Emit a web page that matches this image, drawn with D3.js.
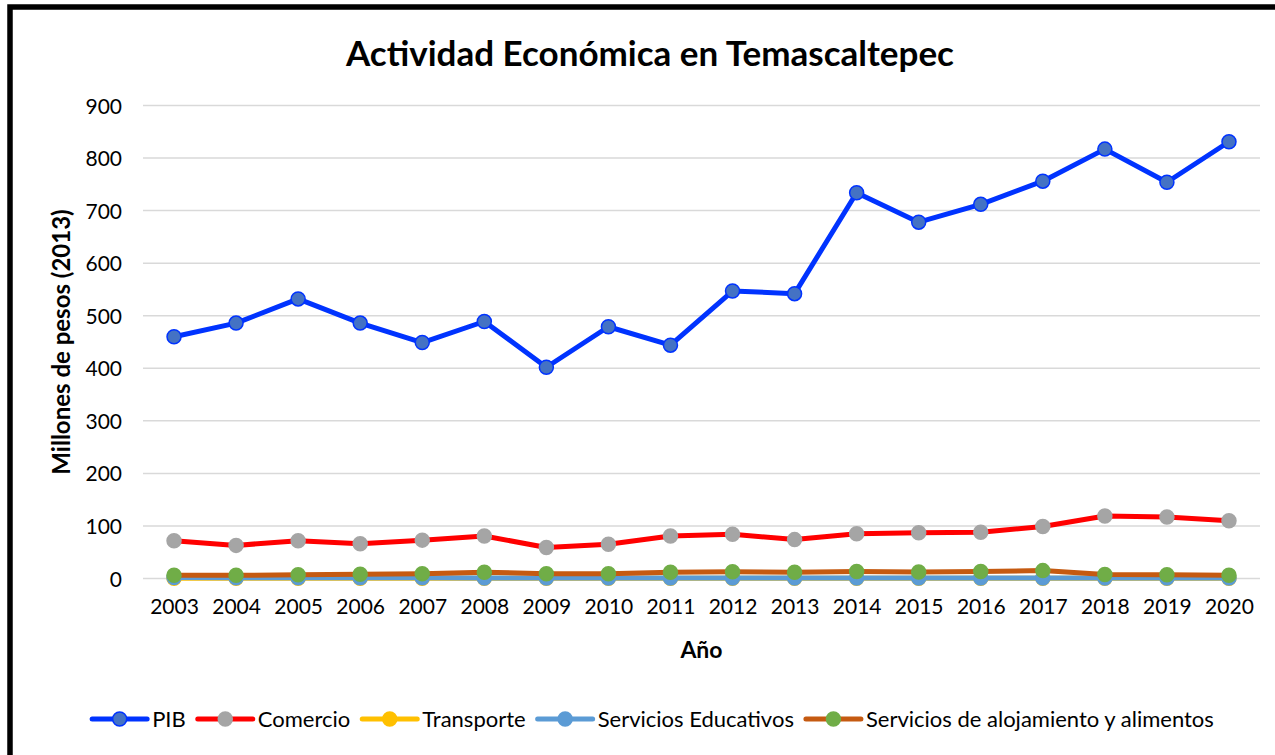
<!DOCTYPE html>
<html>
<head>
<meta charset="utf-8">
<script src="https://cdn.jsdelivr.net/npm/d3@7"></script>
<style>
  body { margin: 0; background: #fff; }
  text { font-family: Lato, "Open Sans", sans-serif; fill: #000; }
</style>
</head>
<body>
<svg width="1275" height="755"></svg>
<script>
// Data
const years = [2003, 2004, 2005, 2006, 2007, 2008, 2009, 2010, 2011, 2012, 2013, 2014, 2015, 2016, 2017, 2018, 2019, 2020];
const pib = [460, 486, 532, 486, 449, 489, 402, 479, 444, 547, 542, 734, 678, 712, 756, 817, 754, 831];
const comercio = [72, 63, 72, 66, 73, 81, 59, 65, 81, 84, 74, 85, 87, 88, 99, 119, 117, 110];
const transporte = [0.3, 0.3, 0.3, 0.3, 0.3, 0.5, 0.5, 0.5, 0.5, 0.5, 0.5, 0.5, 0.5, 0.5, 0.5, 0.5, 0.5, 0.5];
const educativos = [1.8, 1.5, 1.5, 1.5, 1.5, 1, 1, 1, 1, 1, 1, 1, 1, 1, 1, 1, 1, 1];
const alojamiento = [6, 6, 7, 8, 9, 12, 9, 9, 12, 13, 12, 13.5, 12.5, 13.5, 15, 7.5, 7, 6.3];
const yTicks = [0, 100, 200, 300, 400, 500, 600, 700, 800, 900];

const series = [
  {name: "PIB", values: pib, line: "#0033ff", fill: "#4472c4", stroke: "#0033ff"},
  {name: "Comercio", values: comercio, line: "#ff0000", fill: "#a5a5a5", stroke: "#a5a5a5"},
  {name: "Transporte", values: transporte, line: "#ffc000", fill: "#ffc000", stroke: "#ffc000"},
  {name: "Servicios Educativos", values: educativos, line: "#5b9bd5", fill: "#5b9bd5", stroke: "#5b9bd5"},
  {name: "Servicios de alojamiento y alimentos", values: alojamiento, line: "#c55a11", fill: "#70ad47", stroke: "#70ad47"}
];

const svg = d3.select("svg");

// Outer frame (cropped on right and bottom)
svg.append("rect")
  .attr("x", 10).attr("y", 7)
  .attr("width", 1400).attr("height", 900)
  .attr("fill", "none")
  .attr("stroke", "#000")
  .attr("stroke-width", 5.5);

const plot = {left: 143, right: 1260, top: 105.5, bottom: 578.5};

const x = d3.scalePoint()
  .domain(years)
  .range([plot.left, plot.right])
  .padding(0.5);

const y = d3.scaleLinear()
  .domain([0, 900])
  .range([plot.bottom, plot.top]);

// Gridlines
svg.append("g")
  .selectAll("line")
  .data(yTicks)
  .join("line")
  .attr("x1", plot.left).attr("x2", plot.right)
  .attr("y1", d => y(d)).attr("y2", d => y(d))
  .attr("stroke", "#d9d9d9")
  .attr("stroke-width", 1.5);

// Y axis labels
const yAxis = svg.append("g")
  .attr("transform", `translate(${plot.left - 8},0)`)
  .call(d3.axisLeft(y).tickValues(yTicks).tickSize(0).tickPadding(13));
yAxis.select(".domain").remove();
yAxis.selectAll("text")
  .style("font-size", "21px")
  .style("font-family", "Lato, sans-serif")
  .attr("dy", "0.36em");

// X axis labels
const xAxis = svg.append("g")
  .attr("transform", `translate(0,${plot.bottom})`)
  .call(d3.axisBottom(x).tickSize(0).tickPadding(21));
xAxis.select(".domain").remove();
xAxis.selectAll("text")
  .style("font-size", "21px")
  .style("font-family", "Lato, sans-serif");

// Titles
svg.append("text")
  .attr("x", 650).attr("y", 66)
  .attr("text-anchor", "middle")
  .style("font-size", "35px")
  .style("font-weight", "bold")
  .text("Actividad Económica en Temascaltepec");

svg.append("text")
  .attr("x", (plot.left + plot.right) / 2).attr("y", 658)
  .attr("text-anchor", "middle")
  .style("font-size", "23px")
  .style("font-weight", "bold")
  .text("Año");

svg.append("text")
  .attr("transform", `translate(70,${(plot.top + plot.bottom) / 2}) rotate(-90)`)
  .attr("text-anchor", "middle")
  .style("font-size", "24px")
  .style("font-weight", "bold")
  .text("Millones de pesos (2013)");

// Lines and markers
const line = d3.line()
  .x((d, i) => x(years[i]))
  .y(d => y(d));

series.forEach(s => {
  const g = svg.append("g");
  g.append("path")
    .datum(s.values)
    .attr("d", line)
    .attr("fill", "none")
    .attr("stroke", s.line)
    .attr("stroke-width", 5)
    .attr("stroke-linejoin", "round");
  g.selectAll("circle")
    .data(s.values)
    .join("circle")
    .attr("cx", (d, i) => x(years[i]))
    .attr("cy", d => y(d))
    .attr("r", 7)
    .attr("fill", s.fill)
    .attr("stroke", s.stroke)
    .attr("stroke-width", 1.5);
});

// Legend
const legend = svg.append("g").attr("transform", "translate(0,719)");
let lx = 0;
const items = legend.selectAll("g")
  .data(series)
  .join("g");
items.each(function(s) {
  const g = d3.select(this);
  g.append("line")
    .attr("x1", 0).attr("x2", 55)
    .attr("stroke", s.line)
    .attr("stroke-width", 5)
    .attr("stroke-linecap", "round");
  g.append("circle")
    .attr("cx", 27.5).attr("r", 7)
    .attr("fill", s.fill)
    .attr("stroke", s.stroke)
    .attr("stroke-width", 1.5);
  const t = g.append("text")
    .attr("x", 60).attr("dy", "0.35em")
    .style("font-size", "22px")
    .text(s.name);
  g.attr("transform", `translate(${lx},0)`);
  lx += 60 + t.node().getComputedTextLength() + 12;
});
const legendWidth = lx - 12;
legend.attr("transform", `translate(${653 - legendWidth / 2},719)`);
</script>
</body>
</html>
